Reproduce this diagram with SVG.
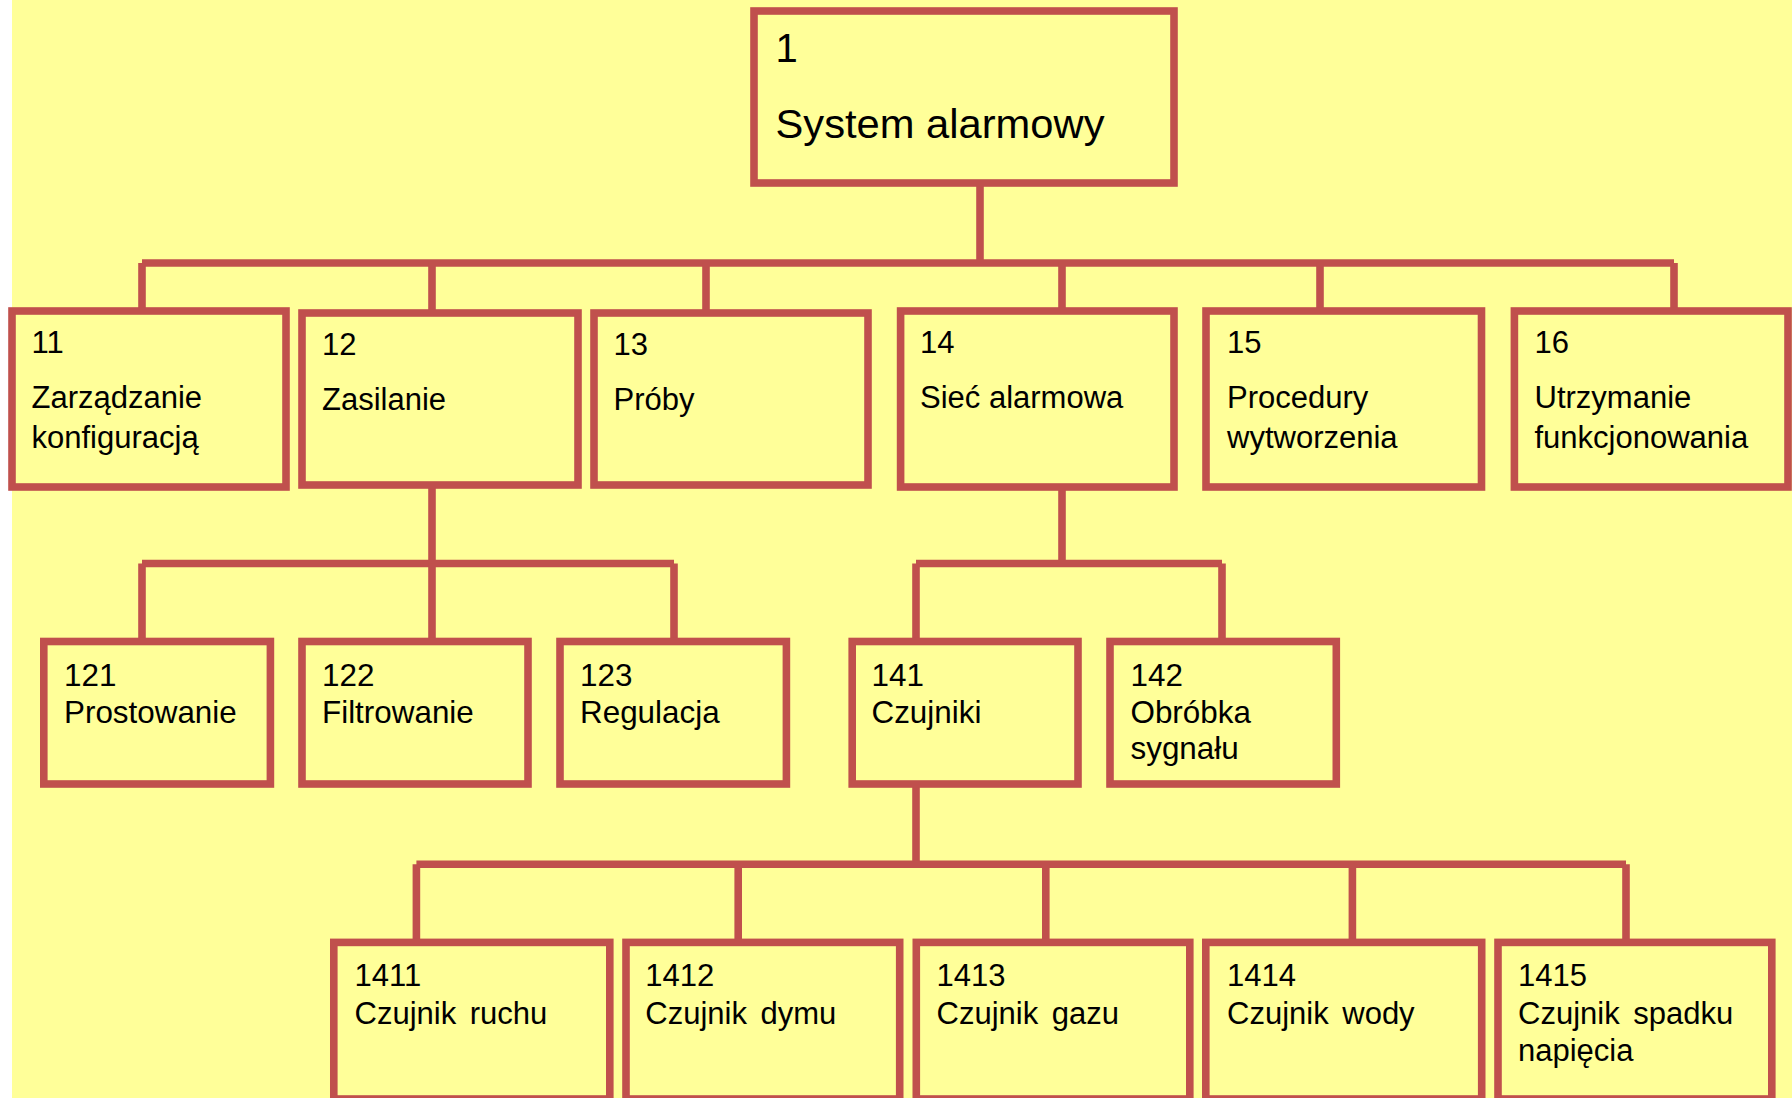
<svg xmlns="http://www.w3.org/2000/svg" width="1792" height="1098" viewBox="0 0 1792 1098">
  <style>
    .box { fill: #FFFF99; stroke: #C0504D; stroke-width: 7.6; }
    .wire { fill: none; stroke: #C0504D; stroke-width: 7.6; stroke-linecap: butt; }
    text { font-family: "Liberation Sans", Arial, sans-serif; fill: #000000; }
    .t1 { font-size: 40px; }
    .t { font-size: 31px; }
    .t3 { font-size: 31.4px; }
    .t4 { font-size: 31px; word-spacing: 5px; }
  </style>

  <!-- page -->
  <rect x="0" y="0" width="1792" height="1098" fill="#FFFFFF"/>
  <rect x="12" y="0" width="1780" height="1098" fill="#FFFF99"/>

  <!-- tree connectors -->
  <g id="connectors" class="wire">
    <!-- 1 -> 11..16 -->
    <path d="M980 183 V263"/>
    <path d="M142 263 H1674"/>
    <path d="M142 263 V311 M432 263 V313 M706 263 V313 M1062 263 V311 M1320 263 V311 M1674 263 V311"/>
    <!-- 12 -> 121..123 -->
    <path d="M432 485 V563.5"/>
    <path d="M142 563.5 H674"/>
    <path d="M142 563.5 V641.5 M432 563.5 V641.5 M674 563.5 V641.5"/>
    <!-- 14 -> 141, 142 -->
    <path d="M1062 487 V563.5"/>
    <path d="M916 563.5 H1222"/>
    <path d="M916 563.5 V641.5 M1222 563.5 V641.5"/>
    <!-- 141 -> 1411..1415 -->
    <path d="M916 784 V864.3"/>
    <path d="M416.4 864.3 H1626"/>
    <path d="M416.4 864.3 V942.4 M738.2 864.3 V942.4 M1045.8 864.3 V942.4 M1352.4 864.3 V942.4 M1626 864.3 V942.4"/>
  </g>

  <!-- level 1 -->
  <g id="n1">
    <rect class="box" x="754" y="11" width="420" height="172"/>
    <text class="t1" x="775.5" y="62.3">1</text>
    <text class="t1" x="775.5" y="138.3" textLength="329" lengthAdjust="spacingAndGlyphs">System alarmowy</text>
  </g>

  <!-- level 2 -->
  <g id="n11">
    <rect class="box" x="12" y="311" width="274" height="176"/>
    <text class="t" x="31.5" y="353">11</text>
    <text class="t" x="31.5" y="408.3">Zarządzanie</text>
    <text class="t" x="31.5" y="448.3">konfiguracją</text>
  </g>
  <g id="n12">
    <rect class="box" x="302" y="313" width="276" height="172"/>
    <text class="t" x="322" y="355">12</text>
    <text class="t" x="322" y="410">Zasilanie</text>
  </g>
  <g id="n13">
    <rect class="box" x="594" y="313" width="274" height="172"/>
    <text class="t" x="613.5" y="354.5">13</text>
    <text class="t" x="613.5" y="410">Próby</text>
  </g>
  <g id="n14">
    <rect class="box" x="900.6" y="311" width="273.4" height="176"/>
    <text class="t" x="920" y="353">14</text>
    <text class="t" x="920" y="408.3">Sieć alarmowa</text>
  </g>
  <g id="n15">
    <rect class="box" x="1206" y="311" width="275.5" height="176"/>
    <text class="t" x="1227" y="353">15</text>
    <text class="t" x="1227" y="408.3">Procedury</text>
    <text class="t" x="1227" y="448.3">wytworzenia</text>
  </g>
  <g id="n16">
    <rect class="box" x="1514.4" y="311" width="273.6" height="176"/>
    <text class="t" x="1534.5" y="353">16</text>
    <text class="t" x="1534.5" y="408.3">Utrzymanie</text>
    <text class="t" x="1534.5" y="448.3">funkcjonowania</text>
  </g>

  <!-- level 3 -->
  <g id="n121">
    <rect class="box" x="43.8" y="641.5" width="226.6" height="142.5"/>
    <text class="t3" x="64" y="685.6">121</text>
    <text class="t3" x="64" y="723.1">Prostowanie</text>
  </g>
  <g id="n122">
    <rect class="box" x="302" y="641.5" width="226" height="142.5"/>
    <text class="t3" x="322" y="685.6">122</text>
    <text class="t3" x="322" y="723.1">Filtrowanie</text>
  </g>
  <g id="n123">
    <rect class="box" x="560" y="641.5" width="226.4" height="142.5"/>
    <text class="t3" x="580" y="685.6">123</text>
    <text class="t3" x="580" y="723.1">Regulacja</text>
  </g>
  <g id="n141">
    <rect class="box" x="852.2" y="641.5" width="225.8" height="142.5"/>
    <text class="t3" x="871.5" y="685.6">141</text>
    <text class="t3" x="871.5" y="723.1">Czujniki</text>
  </g>
  <g id="n142">
    <rect class="box" x="1110" y="641.5" width="226.3" height="142.5"/>
    <text class="t3" x="1130.5" y="685.6">142</text>
    <text class="t3" x="1130.5" y="722.6">Obróbka</text>
    <text class="t3" x="1130.5" y="759.4">sygnału</text>
  </g>

  <!-- level 4 -->
  <g id="n1411">
    <rect class="box" x="333.8" y="942.4" width="276" height="156.6"/>
    <text class="t4" x="354.5" y="986">1411</text>
    <text class="t4" x="354.5" y="1024.3">Czujnik ruchu</text>
  </g>
  <g id="n1412">
    <rect class="box" x="626" y="942.4" width="273.7" height="156.6"/>
    <text class="t4" x="645.3" y="986">1412</text>
    <text class="t4" x="645.3" y="1024.3">Czujnik dymu</text>
  </g>
  <g id="n1413">
    <rect class="box" x="916.3" y="942.4" width="273.5" height="156.6"/>
    <text class="t4" x="936.5" y="986">1413</text>
    <text class="t4" x="936.5" y="1024.3">Czujnik gazu</text>
  </g>
  <g id="n1414">
    <rect class="box" x="1205.8" y="942.4" width="275.9" height="156.6"/>
    <text class="t4" x="1227" y="986">1414</text>
    <text class="t4" x="1227" y="1024.3">Czujnik wody</text>
  </g>
  <g id="n1415">
    <rect class="box" x="1498" y="942.4" width="273.8" height="156.6"/>
    <text class="t4" x="1518" y="986">1415</text>
    <text class="t4" x="1518" y="1024.3">Czujnik spadku</text>
    <text class="t4" x="1518" y="1061.4">napięcia</text>
  </g>
</svg>
